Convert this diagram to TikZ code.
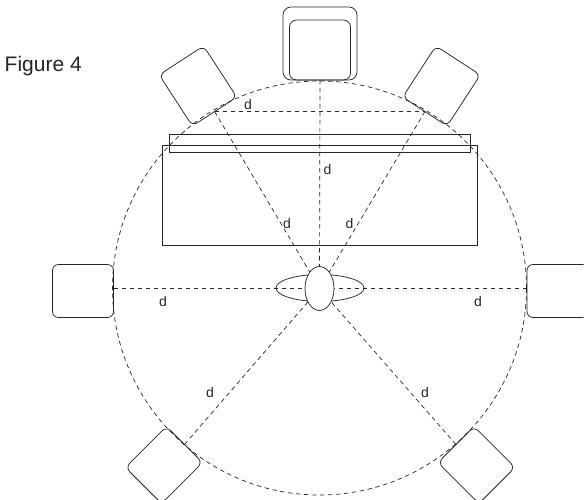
\documentclass[tikz,border=0pt]{standalone}
\usepackage{fontspec}
\setmainfont{Liberation Sans}
\usetikzlibrary{shapes.geometric}
\tikzset{
  lw/.style={line width=0.75pt,draw=black!85},
  spk/.style={lw,rectangle,rounded corners=6pt,inner sep=0pt,outer sep=0pt},
  spkfront/.style={spk,minimum width=53pt,minimum height=61pt},
  spklow/.style={spk,minimum width=51pt,minimum height=58pt},
  spkside/.style={spk,minimum width=61pt,minimum height=53pt},
  dsh/.style={line width=0.7pt,draw=black!85,dash pattern=on 4.5pt off 3.5pt},
  lab/.style={font=\fontsize{14}{16}\selectfont,inner sep=0pt,text=black!85},
  plain/.style={lw,rectangle,inner sep=0pt,outer sep=0pt},
}
\begin{document}
\begin{tikzpicture}[x=1pt,y=-1pt]
\useasboundingbox (0,0) rectangle (584,500);
\clip (0,0) rectangle (584,500);
% room circle
\node[circle,dsh,minimum size=414pt,inner sep=0pt,outer sep=0pt] (room) at (319.5,288) {};
% screen unit
\node[plain,minimum width=314.6pt,minimum height=100pt] (cabinet) at (320,195) {};
\node[plain,minimum width=301.4pt,minimum height=18pt] (panel) at (320,143.3) {};
% listener
\node[ellipse,lw,minimum width=88pt,minimum height=27pt,inner sep=0pt,outer sep=0pt] (body) at (320,288) {};
\node[ellipse,lw,fill=white,minimum width=29pt,minimum height=44pt,inner sep=0pt,outer sep=0pt] (head) at (319.5,288.5) {};
% speakers
\node[spk,minimum width=74pt,minimum height=73pt,rounded corners=8pt] (cout) at (320,43.5) {};
\node[spk,minimum width=61pt,minimum height=60pt,rounded corners=7pt] (cin) at (320,50) {};
\node[spkfront,rotate=33] (tl) at (198,86) {};
\node[spkfront,rotate=-33] (tr) at (441.5,86) {};
\node[spkside] (ml) at (83,291) {};
\node[spkside] (mr) at (557.5,291) {};
\node[spklow,rotate=-45] (bl) at (164,465) {};
\node[spklow,rotate=45] (br) at (476.5,465) {};
% connectors
\draw[dsh] (cout.south) -- (head);
\draw[dsh] (tl.south) -- (tr.south);
\draw[dsh] (tl.south) -- (head);
\draw[dsh] (tr.south) -- (head);
\draw[dsh] (head.center -| ml.east) -- (head);
\draw[dsh] (head.center -| mr.west) -- (head);
\draw[dsh] (bl.north) -- (head);
\draw[dsh] (br.north) -- (head);
% labels
\node[lab] (d1) at (248,104) {d};
\node[lab] (d2) at (327.5,169) {d};
\node[lab] (d3) at (287,223.5) {d};
\node[lab] (d4) at (349.5,223.5) {d};
\node[lab] (d5) at (163,301) {d};
\node[lab] (d6) at (478,301) {d};
\node[lab] (d7) at (210,392.5) {d};
\node[lab] (d8) at (425,392.5) {d};
\node[lab,font=\fontsize{21}{24}\selectfont,anchor=base west] (title) at (4.5,72) {Figure 4};
\end{tikzpicture}
\end{document}
